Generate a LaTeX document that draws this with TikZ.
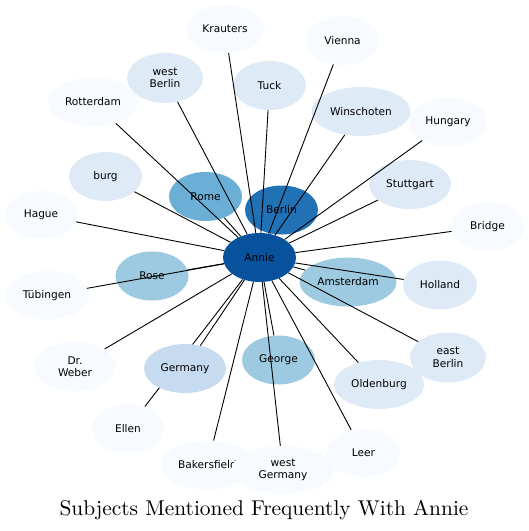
\documentclass[tikz,border=0pt]{standalone}
\usepackage{fontspec}
\usepackage{tikz}
\usetikzlibrary{shapes.geometric, backgrounds}
\newfontfamily\labelfont{DejaVu Sans}
\newfontfamily\titlefont{lmroman10-regular}[Extension=.otf]
\definecolor{blueA}{HTML}{08519C}
\definecolor{blueB}{HTML}{2171B5}
\definecolor{blueC}{HTML}{6BAED6}
\definecolor{blueD}{HTML}{9ECAE1}
\definecolor{blueE}{HTML}{C6DBEF}
\definecolor{blueF}{HTML}{DEEBF7}
\definecolor{blueG}{HTML}{F7FBFF}
\tikzset{
  subject/.style={ellipse, inner sep=0pt, align=center, text=black,
    font=\labelfont\fontsize{10.6}{12.5}\selectfont, minimum height=49pt},
  link/.style={black, line width=0.9pt}
}

\begin{document}
\begin{tikzpicture}[x=1pt, y=-1pt]
    \useasboundingbox (0,0) rectangle (529,531);
    % outer ring
    \node[subject, fill=blueG, minimum width=78pt, minimum height=48pt] (krauters) at (225,29) {Krauters};
    \node[subject, fill=blueF, minimum width=76pt, minimum height=50pt] (westberlin) at (165,78) {west\\Berlin};
    \node[subject, fill=blueG, minimum width=90pt] (rotterdam) at (93,102) {Rotterdam};
    \node[subject, fill=blueF, minimum width=73pt] (tuck) at (269.5,85.5) {Tuck};
    \node[subject, fill=blueG, minimum width=73pt] (vienna) at (342.5,40.5) {Vienna};
    \node[subject, fill=blueG, minimum width=78pt] (hungary) at (448,122) {Hungary};
    \node[subject, fill=blueF, minimum width=99pt] (winschoten) at (361,111.5) {Winschoten};
    \node[subject, fill=blueF, minimum width=73pt] (burg) at (105.5,176.5) {burg};
    \node[subject, fill=blueF, minimum width=82pt] (stuttgart) at (410,184.5) {Stuttgart};
    \node[subject, fill=blueG, minimum width=73pt] (bridge) at (487.5,226.5) {Bridge};
    \node[subject, fill=blueG, minimum width=73pt, minimum height=48pt] (hague) at (41,215) {Hague};
    \node[subject, fill=blueG, minimum width=83pt] (tubingen) at (47,295.5) {Tübingen};
    \node[subject, fill=blueF, minimum width=74pt] (holland) at (440,285) {Holland};
    \node[subject, fill=blueG, minimum width=82pt, minimum height=50pt] (drweber) at (75,366.5) {Dr.\\Weber};
    \node[subject, fill=blueF, minimum width=76pt, minimum height=50pt] (eastberlin) at (448,357.5) {east\\Berlin};
    \node[subject, fill=blueF, minimum width=90pt] (oldenburg) at (379,384.5) {Oldenburg};
    \node[subject, fill=blueG, minimum width=72pt] (ellen) at (128,428.5) {Ellen};
    \node[subject, fill=blueG, minimum width=73pt] (leer) at (363.5,453) {Leer};
    \node[subject, fill=blueG, minimum width=94pt] (bakersfield) at (207.5,465) {Bakersfield};
    \node[subject, fill=blueG, minimum width=103pt, minimum height=48pt] (westgermany) at (283,470) {west\\Germany};
    % inner ring
    \node[subject, fill=blueC, minimum width=73pt] (rome) at (205.5,196.5) {Rome};
    \node[subject, fill=blueB, minimum width=73pt] (berlin) at (281.5,210) {Berlin};
    \node[subject, fill=blueD, minimum width=73pt] (rose) at (152,276) {Rose};
    \node[subject, fill=blueD, minimum width=97pt] (amsterdam) at (348,282) {Amsterdam};
    \node[subject, fill=blueD, minimum width=73pt] (george) at (278.5,360) {George};
    \node[subject, fill=blueA, minimum width=73pt] (annie) at (259.5,257.5) {Annie};
    % hidden under Germany
    \begin{scope}[on background layer]
        \draw[link] (annie) -- (ellen);
    \end{scope}
    \node[subject, fill=blueE, minimum width=82pt] (germany) at (185,368.5) {Germany};

    \foreach \n in {krauters, westberlin, rotterdam, tuck, vienna, hungary, winschoten,
        burg, stuttgart, bridge, hague, tubingen, holland, drweber, eastberlin, oldenburg,
        leer, bakersfield, westgermany, rome, berlin, rose, amsterdam, george, germany}
        \draw[link] (annie) -- (\n);

    \node[font=\titlefont\fontsize{21.4}{25}\selectfont, anchor=base] (title) at (264,515) {Subjects Mentioned Frequently With Annie};
\end{tikzpicture}
\end{document}
